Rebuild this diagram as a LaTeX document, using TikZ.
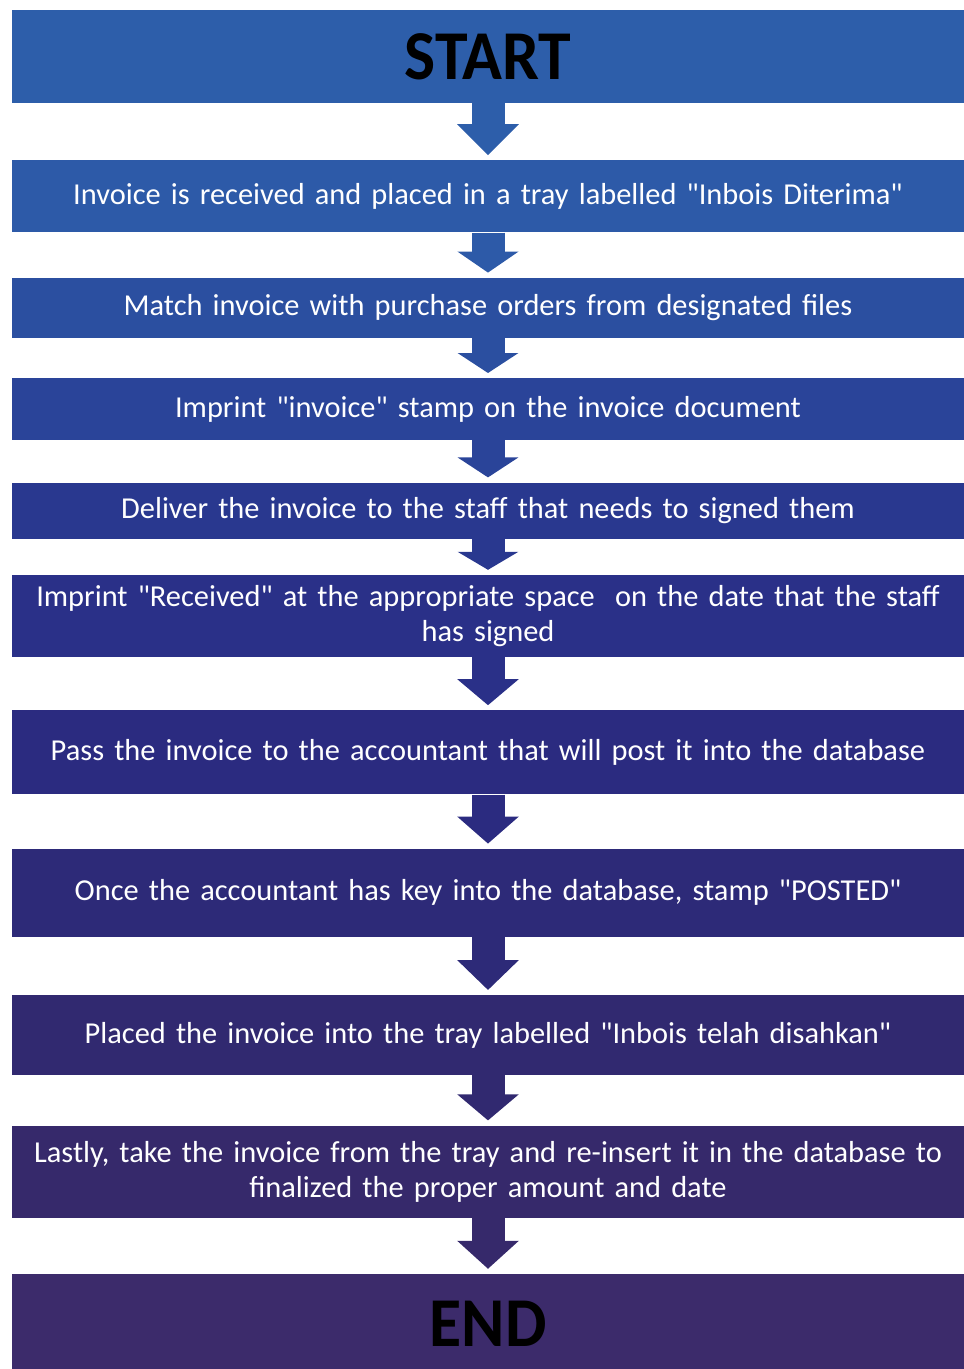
\documentclass[tikz,border=0pt]{standalone}
\usepackage{fontspec}
\setmainfont{Carlito}
\newfontfamily\headfont[FakeStretch=0.94]{Carlito}
\usetikzlibrary{positioning,arrows.meta}
\definecolor{cStart}{HTML}{2D5EAA}
\definecolor{cOne}{HTML}{2D5AA8}
\definecolor{cTwo}{HTML}{2B4FA0}
\definecolor{cThree}{HTML}{2A4499}
\definecolor{cFour}{HTML}{29388F}
\definecolor{cFive}{HTML}{2A3088}
\definecolor{cSix}{HTML}{2B2B80}
\definecolor{cSeven}{HTML}{2D2A78}
\definecolor{cEight}{HTML}{312970}
\definecolor{cNine}{HTML}{36296B}
\definecolor{cEnd}{HTML}{3C2B6B}
\newcommand{\qt}{\textquotedbl}

\begin{document}
\begin{tikzpicture}[
        x=1pt, y=1pt,
        stepbox/.style n args={2}{
            rectangle, fill=#1,
            minimum width=952pt,
            minimum height=#2,
            inner sep=0pt,
            text width=945pt, align=center,
            text=white,
            font=\fontsize{30.4}{35}\selectfont
        },
        endbox/.style n args={2}{
            stepbox={#1}{#2},
            text=black,
            font=\headfont\bfseries\fontsize{70}{70}\selectfont
        },
        flowarrow/.style n args={2}{
            draw=#1, line width=33pt,
            -{Triangle[width=60pt,length=#2]},
            shorten >=5pt
        }
    ]
        \useasboundingbox (0,0) rectangle (964,-1369);

        \node[endbox={cStart}{93pt}] (start) at (488,-56.5) {START};
        \node[stepbox={cOne}{72pt}] (s1) [below=57pt of start]
            {Invoice is received and placed in a tray labelled \qt Inbois Diterima\qt};
        \node[stepbox={cTwo}{60pt}] (s2) [below=45pt of s1]
            {Match invoice with purchase orders from designated files};
        \node[stepbox={cThree}{62pt}] (s3) [below=40pt of s2]
            {Imprint \qt invoice\qt\ stamp on the invoice document};
        \node[stepbox={cFour}{56pt}] (s4) [below=42pt of s3]
            {Deliver the invoice to the staff that needs to signed them};
        \node[stepbox={cFive}{82pt}] (s5) [below=36pt of s4]
            {Imprint \qt Received\qt\ at the appropriate space\ \ on the date that the staff\\has signed};
        \node[stepbox={cSix}{84pt}] (s6) [below=53pt of s5]
            {Pass the invoice to the accountant that will post it into the database};
        \node[stepbox={cSeven}{88pt}] (s7) [below=54pt of s6]
            {Once the accountant has key into the database, stamp \qt POSTED\qt};
        \node[stepbox={cEight}{80pt}] (s8) [below=58pt of s7]
            {Placed the invoice into the tray labelled \qt Inbois telah disahkan\qt};
        \node[stepbox={cNine}{92pt}] (s9) [below=50pt of s8]
            {Lastly, take the invoice from the tray and re-insert it in the database to\\finalized the proper amount and date};
        \node[endbox={cEnd}{99pt}] (end) [below=56pt of s9] {END};

        % block arrows between the steps
        \foreach \from/\to/\col/\len in {start/s1/cStart/31pt, s1/s2/cOne/21pt,
                s2/s3/cTwo/20pt, s3/s4/cThree/20pt, s4/s5/cFour/18pt,
                s5/s6/cFive/26pt, s6/s7/cSix/27pt, s7/s8/cSeven/30pt,
                s8/s9/cEight/26pt, s9/end/cNine/28pt}
            \draw[flowarrow={\col}{\len}] (\from.south) -- (\to.north);
\end{tikzpicture}
\end{document}
